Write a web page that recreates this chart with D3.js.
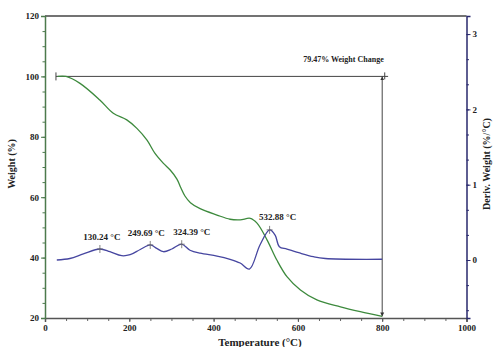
<!DOCTYPE html>
<html>
<head>
<meta charset="utf-8">
<script src="https://cdn.jsdelivr.net/npm/d3@7"></script>
<style>
  body { margin: 0; background: #fff; }
  text { font-family: "Liberation Serif", "Times New Roman", serif; font-weight: bold; }
</style>
</head>
<body>
<div id="chart"></div>
<script>
// weight loss curve (green, left axis)
var weightTemp = [30, 50, 83, 130, 162, 194, 218, 242, 261, 281, 297, 313, 322, 332, 345, 368, 408, 439, 463, 487, 503, 527, 550, 574, 606, 645, 701, 748, 800];
var weightPct  = [100, 100, 97.7, 92.2, 87.8, 85.6, 82.8, 78.9, 74.5, 71.2, 69, 66, 63.2, 60.4, 58.2, 56.2, 54.1, 52.7, 52.5, 53, 51.4, 45.8, 39.2, 33.7, 29.3, 26, 23.7, 22.1, 20.53];

// derivative curve (blue, right axis)
var derivTemp = [28, 59, 91, 130, 154, 182, 202, 226, 250, 265, 281, 301, 324, 344, 368, 408, 439, 463, 485, 510, 533, 546, 556, 574, 606, 637, 665, 800];
var derivVal  = [0, 0.02, 0.08, 0.146, 0.11, 0.057, 0.07, 0.14, 0.2, 0.155, 0.11, 0.146, 0.21, 0.13, 0.09, 0.053, 0.01, -0.04, -0.12, 0.2, 0.4, 0.33, 0.177, 0.146, 0.09, 0.044, 0.02, 0.01];

// peaks of the derivative
var peakTemp  = [130.24, 249.69, 324.39, 532.88];
var peakVal   = [0.146, 0.2, 0.21, 0.4];
var peakLabel = ["130.24 °C", "249.69 °C", "324.39 °C", "532.88 °C"];

var xTicks = [0, 200, 400, 600, 800, 1000];
var yTicks = [20, 40, 60, 80, 100, 120];
var y2Ticks = [0, 1, 2, 3];

var weightStart = 100, weightEnd = 20.53, changeLabel = "79.47% Weight Change";

var width = 494, height = 347;
var margin = {left: 45, right: 27.5, top: 16, bottom: 29};

var svg = d3.select("#chart").append("svg")
    .attr("width", width)
    .attr("height", height);

var x = d3.scaleLinear().domain([0, 1000]).range([margin.left, width - margin.right]);
var y = d3.scaleLinear().domain([20, 120]).range([height - margin.bottom, margin.top]);
var y2 = d3.scaleLinear().domain([-0.77, 3.24]).range([height - margin.bottom, margin.top]);

var bottom = height - margin.bottom;

// top frame line
svg.append("line")
    .attr("x1", x(0)).attr("x2", x(1000))
    .attr("y1", margin.top).attr("y2", margin.top)
    .attr("stroke", "#444").attr("stroke-width", 1.5);

// x axis
var xMinor = d3.range(0, 1001, 50);
svg.append("g")
    .attr("transform", "translate(0," + bottom + ")")
    .call(d3.axisBottom(x).tickValues(xMinor).tickSize(3).tickFormat(""))
    .call(function(g) { g.select(".domain").remove(); })
    .selectAll("line").attr("stroke", "#666");
var xAxis = svg.append("g")
    .attr("transform", "translate(0," + bottom + ")")
    .call(d3.axisBottom(x).tickValues(xTicks).tickSize(4).tickPadding(3).tickFormat(d3.format("d")));
xAxis.select(".domain").attr("stroke", "#555").attr("stroke-width", 1.5);
xAxis.selectAll("line").attr("stroke", "#555");
xAxis.selectAll("text").attr("font-size", 9).attr("fill", "#222");

// left axis (weight)
var yMinor = d3.range(20, 121, 5);
svg.append("g")
    .attr("transform", "translate(" + margin.left + ",0)")
    .call(d3.axisLeft(y).tickValues(yMinor).tickSize(2.5).tickFormat(""))
    .call(function(g) { g.select(".domain").remove(); })
    .selectAll("line").attr("stroke", "#4d7a4d");
var yAxis = svg.append("g")
    .attr("transform", "translate(" + margin.left + ",0)")
    .call(d3.axisLeft(y).tickValues(yTicks).tickSize(4).tickPadding(2).tickFormat(d3.format("d")));
yAxis.select(".domain").attr("stroke", "#4d7a4d").attr("stroke-width", 1.5);
yAxis.selectAll("line").attr("stroke", "#4d7a4d");
yAxis.selectAll("text").attr("font-size", 9).attr("fill", "#222");

// right axis (derivative)
var y2Minor = d3.range(-2, 10).map(function(d) { return d / 3; });
svg.append("g")
    .attr("transform", "translate(" + (width - margin.right) + ",0)")
    .call(d3.axisRight(y2).tickValues(y2Minor).tickSize(2.5).tickFormat(""))
    .call(function(g) { g.select(".domain").remove(); })
    .selectAll("line").attr("stroke", "#2a2a6e");
var y2Axis = svg.append("g")
    .attr("transform", "translate(" + (width - margin.right) + ",0)")
    .call(d3.axisRight(y2).tickValues(y2Ticks).tickSize(4).tickPadding(2).tickFormat(d3.format("d")));
y2Axis.select(".domain").attr("stroke", "#2a2a6e").attr("stroke-width", 1.5);
y2Axis.selectAll("line").attr("stroke", "#2a2a6e");
y2Axis.selectAll("text").attr("font-size", 9).attr("fill", "#222");

// axis titles
svg.append("text")
    .attr("x", x(510)).attr("y", 346)
    .attr("text-anchor", "middle").attr("font-size", 11).attr("fill", "#222")
    .text("Temperature (°C)");
svg.append("text")
    .attr("transform", "translate(15," + y(71) + ") rotate(-90)")
    .attr("text-anchor", "middle").attr("font-size", 10).attr("fill", "#222")
    .text("Weight (%)");
svg.append("text")
    .attr("transform", "translate(" + (width - 4) + "," + y(71) + ") rotate(-90)")
    .attr("text-anchor", "middle").attr("font-size", 10).attr("fill", "#222")
    .text("Deriv. Weight (%/°C)");

// weight change marker
svg.append("defs").selectAll("marker")
    .data(["arr"])
    .enter().append("marker")
    .attr("id", "arr")
    .attr("viewBox", "0 0 10 10")
    .attr("refX", 10).attr("refY", 5)
    .attr("markerWidth", 4).attr("markerHeight", 7)
    .attr("orient", "auto-start-reverse")
    .append("path").attr("d", "M0,0 L10,5 L0,10 z").attr("fill", "#333");

svg.append("line")
    .attr("x1", x(26)).attr("x2", x(814))
    .attr("y1", y(weightStart)).attr("y2", y(weightStart))
    .attr("stroke", "#444").attr("stroke-width", 1);
svg.append("line")
    .attr("x1", x(26)).attr("x2", x(26))
    .attr("y1", y(weightStart) - 4).attr("y2", y(weightStart) + 4)
    .attr("stroke", "#444");
svg.append("line")
    .attr("x1", x(806)).attr("x2", x(806))
    .attr("y1", y(weightStart) - 4).attr("y2", y(weightStart) + 3)
    .attr("stroke", "#444");
svg.append("line")
    .attr("x1", x(800)).attr("x2", x(800))
    .attr("y1", y(weightStart)).attr("y2", y(weightEnd))
    .attr("stroke", "#444").attr("stroke-width", 1)
    .attr("marker-start", "url(#arr)").attr("marker-end", "url(#arr)");
svg.append("text")
    .attr("x", x(708)).attr("y", y(weightStart) - 14)
    .attr("text-anchor", "middle").attr("font-size", 8).attr("fill", "#222")
    .text(changeLabel);

// curves
var weightLine = d3.line()
    .x(function(d, i) { return x(weightTemp[i]); })
    .y(function(d) { return y(d); })
    .curve(d3.curveCatmullRom.alpha(0.5));
svg.append("path")
    .datum(weightPct)
    .attr("d", weightLine)
    .attr("fill", "none").attr("stroke", "#3d8a3d").attr("stroke-width", 1.3);

var derivLine = d3.line()
    .x(function(d, i) { return x(derivTemp[i]); })
    .y(function(d) { return y2(d); })
    .curve(d3.curveCatmullRom.alpha(0.5));
svg.append("path")
    .datum(derivVal)
    .attr("d", derivLine)
    .attr("fill", "none").attr("stroke", "#4646a0").attr("stroke-width", 1.3);

// peak crosses + labels
var peaks = svg.selectAll(".peak")
    .data(peakTemp)
    .enter().append("g")
    .attr("class", "peak")
    .attr("transform", function(d, i) { return "translate(" + x(d) + "," + y2(peakVal[i]) + ")"; });
peaks.append("path")
    .attr("d", "M-3,0 L3,0 M0,-4 L0,4")
    .attr("stroke", "#666").attr("stroke-width", 0.8);
peaks.append("text")
    .attr("x", function(d, i) { return i == 0 ? 2 : (i == 3 ? 8 : (i == 2 ? 10 : -4)); })
    .attr("y", function(d, i) { return i == 3 ? -10 : -9; })
    .attr("text-anchor", "middle").attr("font-size", 9).attr("fill", "#222")
    .text(function(d, i) { return peakLabel[i]; });
</script>
</body>
</html>
